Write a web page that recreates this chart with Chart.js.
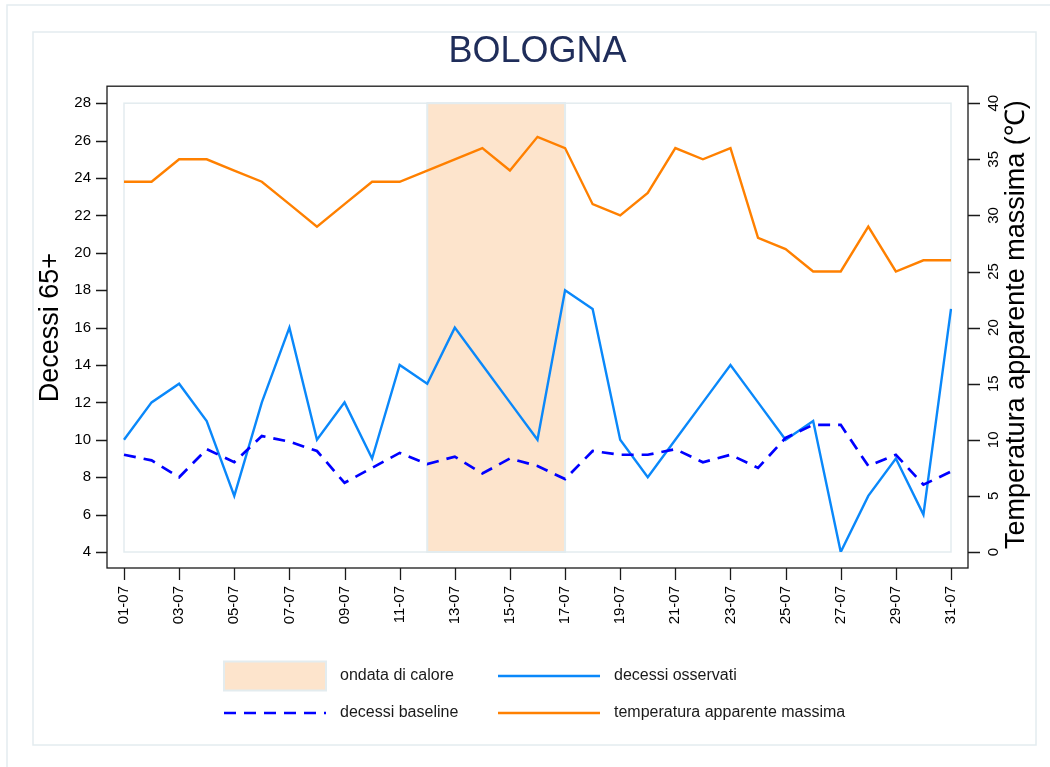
<!DOCTYPE html>
<html lang="it">
<head>
<meta charset="utf-8">
<title>Bologna – decessi 65+ e temperatura</title>
<script src="https://cdn.jsdelivr.net/npm/chart.js@4.4.1/dist/chart.umd.min.js"></script>
<style>
  html, body { margin: 0; padding: 0; background: #fff; }
  #wrap { position: relative; width: 1050px; height: 767px; }
</style>
</head>
<body>
<div id="wrap"><canvas id="grafico"></canvas></div>
<script>
/* Bologna, luglio: decessi 65+ osservati / baseline + temperatura apparente massima */

// ── Dati ───────────────────────────────────────────
const giorni = [
  "01-07", "02-07", "03-07", "04-07", "05-07", "06-07", "07-07", "08-07",
  "09-07", "10-07", "11-07", "12-07", "13-07", "14-07", "15-07", "16-07",
  "17-07", "18-07", "19-07", "20-07", "21-07", "22-07", "23-07", "24-07",
  "25-07", "26-07", "27-07", "28-07", "29-07", "30-07", "31-07",
];
const decessiOsservati = [
  10, 12, 13, 11, 7, 12, 16, 10, 12, 9, 14, 13, 16, 14, 12, 10,
  18, 17, 10, 8, 10, 12, 14, 12, 10, 11, 4, 7, 9, 6, 17,
];
const decessiBaseline = [
  9.2, 8.9, 8.0, 9.5, 8.8, 10.2, 9.9, 9.4, 7.7, 8.5, 9.3, 8.7, 9.1, 8.2, 9.0, 8.6,
  7.9, 9.4, 9.2, 9.2, 9.5, 8.8, 9.2, 8.5, 10.1, 10.8, 10.8, 8.6, 9.2, 7.6, 8.3,
];
const tempAppMax = [
  33, 33, 35, 35, 34, 33, 31, 29, 31, 33, 33, 34, 35, 36, 34, 37,
  36, 31, 30, 32, 36, 35, 36, 28, 27, 25, 25, 29, 25, 26, 26,
];
const ondataCalore = ["12-07", "17-07"]; // inizio / fine ondata

/* --- Stile ---------- */
const FONT = "'Liberation Sans', Arial, sans-serif";
const GRIGIO = "#e3ecef";     // cornici chiare tipo Stata
const PESCA = "#fde4cc";
const TICK = 11;              // lunghezza tacche
const GAP = 17;               // distanza tra assi e area dati

/* ─── Plugin: cornici, ondata, tacche, legenda ───────────────── */
const stataPlugin = {
  id: "stata",
  beforeDraw(chart) {
    const { ctx } = chart;
    ctx.save();
    ctx.strokeStyle = GRIGIO;
    ctx.lineWidth = 1.5;
    ctx.strokeRect(7, 5, 1060, 770);   // esterna (tagliata a dx/basso)
    ctx.strokeRect(33, 32, 1003, 713); // interna
    ctx.restore();
  },
  beforeDatasetsDraw(chart) {
    const { ctx, chartArea: a, scales: { x } } = chart;
    ctx.save();
    ctx.strokeStyle = GRIGIO;
    ctx.lineWidth = 1.5;
    ctx.strokeRect(a.left, a.top, a.right - a.left, a.bottom - a.top);

    // banda ondata di calore
    const x0 = x.getPixelForValue(giorni.indexOf(ondataCalore[0]));
    const x1 = x.getPixelForValue(giorni.indexOf(ondataCalore[1]));
    ctx.fillStyle = PESCA;
    ctx.fillRect(x0, a.top, x1 - x0, a.bottom - a.top);
    ctx.lineWidth = 2;
    ctx.strokeRect(x0, a.top, x1 - x0, a.bottom - a.top);
    ctx.restore();
  },
  afterDraw(chart) {
    const { ctx, chartArea: a, scales: { x, y, y2 } } = chart;
    const L = a.left - GAP, R = a.right + GAP, T = a.top - GAP, B = a.bottom + GAP - 1;
    ctx.save();

    // riquadro nero degli assi
    ctx.strokeStyle = "#1a1a1a";
    ctx.lineWidth = 1.3;
    ctx.strokeRect(L, T, R - L, B - T);

    // tacche
    ctx.beginPath();
    y.ticks.forEach((_t, i) => {
      const p = Math.round(y.getPixelForTick(i)) + 0.5;
      ctx.moveTo(L, p); ctx.lineTo(L - TICK, p);
    });
    y2.ticks.forEach((_t, i) => {
      const p = Math.round(y2.getPixelForTick(i)) + 0.5;
      ctx.moveTo(R, p); ctx.lineTo(R + TICK + 1, p);
    });
    x.ticks.forEach((_t, i) => {
      if (i % 2) return;
      const p = Math.round(x.getPixelForTick(i)) + 0.5;
      ctx.moveTo(p, B); ctx.lineTo(p, B + TICK + 1);
    });
    ctx.stroke();

    // titolo asse destro (letto dal basso, come quello sinistro)
    ctx.fillStyle = "#000";
    ctx.font = "27px " + FONT;
    ctx.textAlign = "center";
    ctx.textBaseline = "middle";
    ctx.translate(a.right + 66, (a.top + a.bottom) / 2 - 3);
    ctx.rotate(-Math.PI / 2);
    ctx.fillText("Temperatura apparente massima (℃)", 0, 0);
    ctx.restore();

    // legenda 2x2
    const ds = chart.data.datasets;
    const voci = [
      { testo: "ondata di calore", box: true },
      { testo: ds[0].label, d: ds[0] },
      { testo: ds[1].label, d: ds[1] },
      { testo: ds[2].label, d: ds[2] },
    ];
    const colX = [a.left + 100, a.left + 374];
    const rigaY = [a.bottom + 124, a.bottom + 161];
    const W = 102;
    ctx.save();
    ctx.font = "16px " + FONT;
    ctx.textBaseline = "middle";
    ctx.textAlign = "left";
    voci.forEach((v, i) => {
      const cx = colX[i % 2], cy = rigaY[Math.floor(i / 2)];
      if (v.box) {
        ctx.fillStyle = PESCA;
        ctx.fillRect(cx, cy - 14.5, W, 29);
        ctx.strokeStyle = GRIGIO;
        ctx.lineWidth = 2;
        ctx.strokeRect(cx, cy - 14.5, W, 29);
      } else {
        ctx.strokeStyle = v.d.borderColor;
        ctx.lineWidth = v.d.borderWidth;
        ctx.setLineDash(v.d.borderDash || []);
        ctx.beginPath();
        ctx.moveTo(cx, cy); ctx.lineTo(cx + W, cy);
        ctx.stroke();
        ctx.setLineDash([]);
      }
      ctx.fillStyle = "#1a1a1a";
      ctx.fillText(v.testo, cx + 116, cy);
    });
    ctx.restore();
  },
};

const ctx = document.getElementById("grafico").getContext("2d");
new Chart(ctx, {
  type: "line",
  data: {
    labels: giorni,
    datasets: [
      {
        label: "decessi osservati",
        data: decessiOsservati,
        yAxisID: "y",
        borderColor: "#0a88fa",
        borderWidth: 2.4,
        order: 1,
      },
      {
        label: "decessi baseline",
        data: decessiBaseline,
        yAxisID: "y",
        borderColor: "#0000ff",
        borderWidth: 2.7,
        borderDash: [12, 8],
        order: 0,
      },
      {
        label: "temperatura apparente massima",
        data: tempAppMax,
        yAxisID: "y2",
        borderColor: "#ff8000",
        borderWidth: 2.4,
        order: 2,
      },
    ],
  },
  options: {
    responsive: true,
    maintainAspectRatio: false,
    animation: false,
    layout: { padding: 0 },
    elements: {
      point: { radius: 0, hoverRadius: 0 },
      line: { tension: 0, fill: false, borderCapStyle: "butt" },
    },
    plugins: {
      legend: { display: false },
      tooltip: { enabled: false },
      title: {
        display: true,
        fullSize: false, // centrato sull'area dati
        text: "BOLOGNA",
        color: "#1f2d5a",
        font: { family: FONT, size: 36, weight: "normal" },
        padding: { top: 30, bottom: 30 },
      },
    },
    scales: {
      x: {
        grid: { display: false },
        border: { display: false },
        afterFit: (s) => { s.height = 215; },
        ticks: {
          autoSkip: false,
          minRotation: 90,
          maxRotation: 90,
          padding: 26,
          color: "#000",
          font: { family: FONT, size: 15 },
          callback: (_v, i) => (i % 2 ? "" : giorni[i]),
        },
      },
      y: {
        position: "left",
        min: 4,
        max: 28,
        grid: { display: false },
        border: { display: false },
        afterFit: (s) => { s.width = 124; },
        ticks: {
          stepSize: 2,
          padding: 25,
          color: "#000",
          font: { family: FONT, size: 15 },
        },
        title: {
          display: true,
          text: "Decessi 65+",
          color: "#000",
          font: { family: FONT, size: 27 },
          padding: { top: 34 },
        },
      },
      y2: {
        position: "right",
        min: 0,
        max: 40,
        grid: { display: false },
        border: { display: false },
        afterFit: (s) => { s.width = 99; },
        ticks: {
          stepSize: 5,
          minRotation: 90,
          maxRotation: 90,
          crossAlign: "center",
          padding: 27,
          color: "#000",
          font: { family: FONT, size: 15 },
        },
      },
    },
  },
  plugins: [stataPlugin],
});
</script>
</body>
</html>
